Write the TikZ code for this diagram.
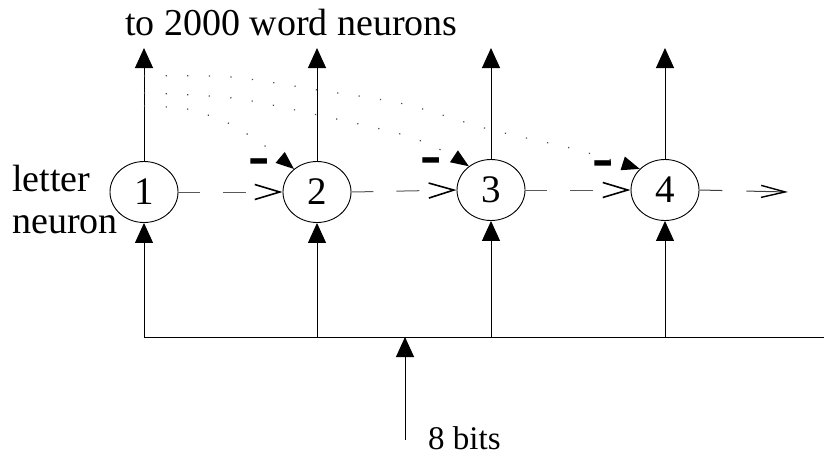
\documentclass[tikz,border=0pt]{standalone}
\usepackage{fontspec}
\setmainfont{Liberation Serif}
\usetikzlibrary{arrows.meta,shapes.geometric}
\begin{document}
\begin{tikzpicture}[x=1pt,y=-1pt,
  neuron/.style={draw,ellipse,minimum width=68pt,minimum height=61pt,inner sep=0pt,line width=0.9pt,font=\fontsize{39}{40}\selectfont},
  sig/.style={line width=1pt,-{Triangle[length=20pt,width=18pt]}},
  lat/.style={gray!70!black,line width=1pt,dash pattern=on 22pt off 23pt on 23pt off 300pt,-{Straight Barb[color=black,length=25pt,width=15pt,line width=1.6pt]}},
  latend/.style={gray!50!black,line width=1pt,dash pattern=on 23pt off 24pt on 300pt,-{Straight Barb[color=black,length=24pt,width=12pt,line width=1.4pt]}},
  inh/.style={gray!60!black,line width=1.2pt,dash pattern=on 1.2pt off 20.4pt,-{Triangle[color=black,length=18pt,width=14pt]}},
  minus/.style={font=\fontsize{64}{64}\bfseries,inner sep=0pt,anchor=base},
  lbl/.style={anchor=base west,inner sep=0pt,font=\fontsize{38}{40}\selectfont}
]
\useasboundingbox (0,0) rectangle (824,456);

% neurons
\node[neuron] (n1) at (144,192) {1};
\node[neuron] (n2) at (317,192) {2};
\node[neuron] (n3) at (491,190) {3};
\node[neuron] (n4) at (665,190) {4};

% labels
\node[lbl] (title) at (125,35) {to 2000 word neurons};
\node[lbl] (let) at (12,191) {letter};
\node[lbl] (neu) at (12,233) {neuron};
\node[anchor=base west,inner sep=0pt,font=\fontsize{33}{35}\selectfont] (bits) at (428,449) {8 bits};

% outputs to word neurons
\coordinate (top) at (0,48);
\draw[sig] (n1.north) -- (n1.north |- top);
\draw[sig] (n2.north) -- (n2.north |- top);
\draw[sig] (n3.north) -- (n3.north |- top);
\draw[sig] (n4.north) -- (n4.north |- top);

% input bus
\coordinate (b0) at (144,337);
\coordinate (b1) at (824,337);
\draw[line width=1pt] (b0) -- (b1);
\draw[sig] (n1.south |- b0) -- (n1.south);
\draw[sig] (n2.south |- b0) -- (n2.south);
\draw[sig] (n3.south |- b0) -- (n3.south);
\draw[sig] (n4.south |- b0) -- (n4.south);
\coordinate (src) at (405,440);
\draw[sig] (src) -- (src |- b0);

% lateral connections
\draw[lat] (n1.east) -- (n2.west);
\draw[lat] (n2.east) -- (n3.west);
\draw[lat] (n3.east) -- (n4.west);
\coordinate (out) at (788,192);
\draw[latend] (n4.east) -- (out);

% inhibitory connections from neuron 1
\coordinate (d1) at (144,76);
\coordinate (d2) at (144,93);
\coordinate (d3) at (144,106);
\draw[inh] plot[smooth] coordinates {(d3) (187,109) (228,123) (265,146) (n2.135)};
\draw[inh] plot[smooth] coordinates {(d2) (233,98) (318,115) (404,135) (445,152) (n3.133)};
\draw[inh] plot[smooth] coordinates {(d1) (231,77) (318,90) (404,104) (488,129) (574,149) (n4.140)};

% minus signs
\node[minus] (m2) at (259,176) {-};
\node[minus] (m3) at (431,175) {-};
\node[minus] (m4) at (603,178) {-};
\end{tikzpicture}
\end{document}
